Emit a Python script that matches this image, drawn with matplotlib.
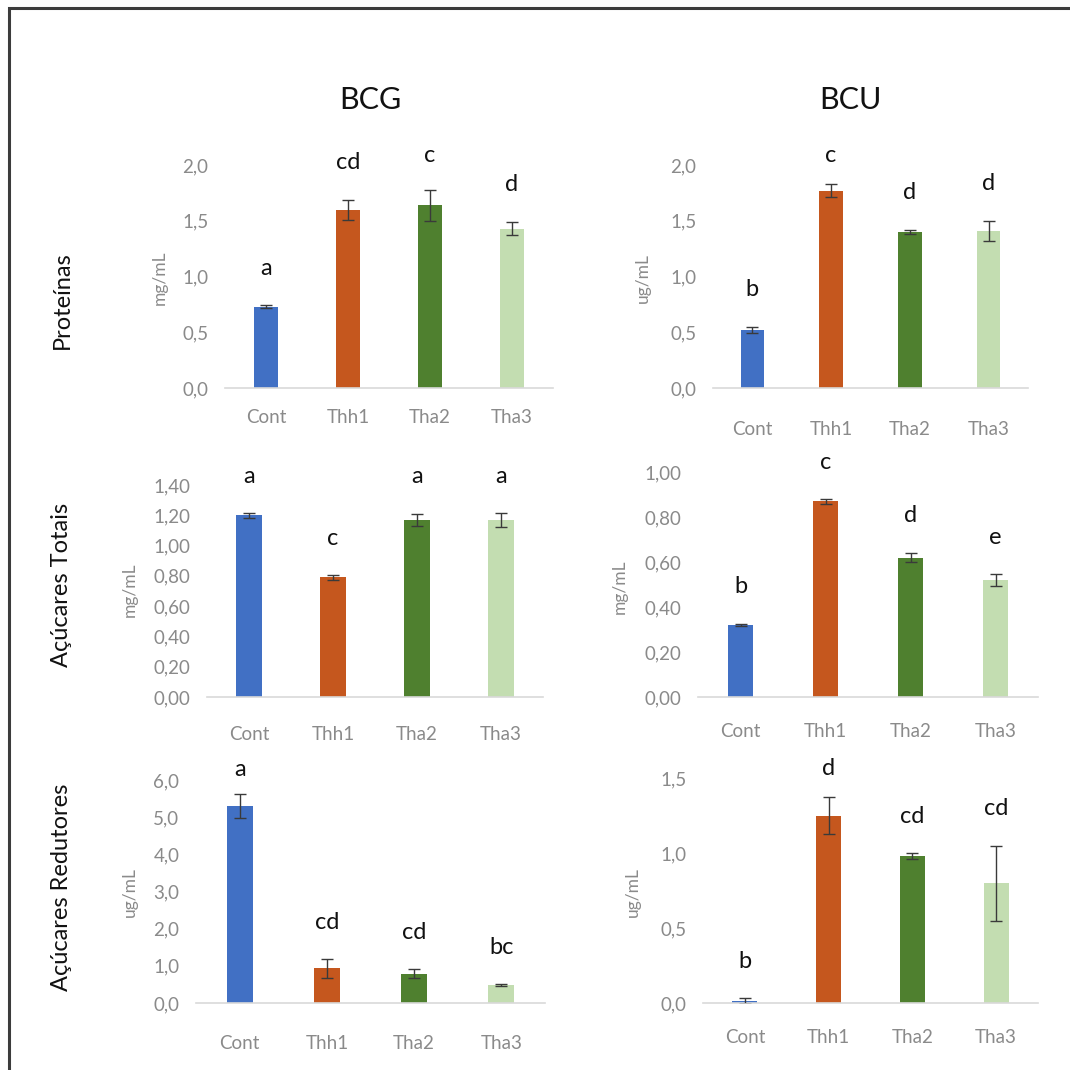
import numpy as np
import matplotlib
matplotlib.use('Agg')
import matplotlib.pyplot as plt
from matplotlib.patches import Rectangle

plt.rcParams['font.family'] = ['Lato', 'DejaVu Sans']

groups = ['Cont', 'Thh1', 'Tha2', 'Tha3']
colors = ['#4170C4', '#C5571E', '#4F802F', '#C3DDB1']

bcg_prot = [0.73, 1.60, 1.64, 1.43]
bcg_prot_err = [0.01, 0.09, 0.14, 0.06]
bcg_prot_let = ['a', 'cd', 'c', 'd']

bcu_prot = [0.52, 1.77, 1.40, 1.41]
bcu_prot_err = [0.03, 0.06, 0.02, 0.09]
bcu_prot_let = ['b', 'c', 'd', 'd']

bcg_tot = [1.20, 0.79, 1.17, 1.17]
bcg_tot_err = [0.015, 0.015, 0.04, 0.045]
bcg_tot_let = ['a', 'c', 'a', 'a']

bcu_tot = [0.32, 0.87, 0.62, 0.52]
bcu_tot_err = [0.005, 0.012, 0.022, 0.025]
bcu_tot_let = ['b', 'c', 'd', 'e']

bcg_red = [5.30, 0.93, 0.79, 0.48]
bcg_red_err = [0.32, 0.25, 0.12, 0.03]
bcg_red_let = ['a', 'cd', 'cd', 'bc']

bcu_red = [0.013, 1.25, 0.98, 0.80]
bcu_red_err = [0.02, 0.125, 0.02, 0.25]
bcu_red_let = ['b', 'd', 'cd', 'cd']

W, H = 1070, 1070
fig = plt.figure(figsize=(W / 100, H / 100), dpi=100)

# (values, errors, letters, ymax, step, decimals, unit,
#  axes px [left, right, top, bottom], ylabel px (x, y), xtick pad)
panels = [
    (bcg_prot, bcg_prot_err, bcg_prot_let, 2.0, 0.5, 1, 'mg/mL', (225, 553, 165, 388), (160, 278), 15),
    (bcu_prot, bcu_prot_err, bcu_prot_let, 2.0, 0.5, 1, 'ug/mL', (713, 1028, 165, 388), (643, 278), 24),
    (bcg_tot, bcg_tot_err, bcg_tot_let, 1.4, 0.2, 2, 'mg/mL', (207, 543, 485, 697), (130, 590), 21),
    (bcu_tot, bcu_tot_err, bcu_tot_let, 1.0, 0.2, 2, 'mg/mL', (698, 1038, 472, 697), (620, 587), 19),
    (bcg_red, bcg_red_err, bcg_red_let, 6.0, 1.0, 1, 'ug/mL', (196, 545, 780, 1003), (130, 892), 23),
    (bcu_red, bcu_red_err, bcu_red_let, 1.5, 0.5, 1, 'ug/mL', (703, 1038, 778, 1003), (633, 892), 19),
]

x = np.arange(len(groups))
for vals, errs, lets, ymax, step, dec, unit, box, lab, xpad in panels:
    l, r, t, b = box
    ax = fig.add_axes([l / W, 1 - b / H, (r - l) / W, (b - t) / H])
    ax.bar(x, vals, width=0.3, color=colors, zorder=2)
    ax.errorbar(x, vals, yerr=errs, fmt='none', ecolor='#3a3a3a', elinewidth=1,
                capsize=4, capthick=1, zorder=3)
    ax.set_xlim(-0.5, 3.5)
    ax.set_ylim(0, ymax)
    ticks = np.arange(0, ymax + step / 2, step)
    ax.set_yticks(ticks)
    ax.set_yticklabels([f'{v:.{dec}f}'.replace('.', ',') for v in ticks])
    ax.set_xticks(x)
    ax.set_xticklabels(groups)
    for s in ['top', 'right', 'left']:
        ax.spines[s].set_visible(False)
    ax.spines['bottom'].set_color('#d9d9d9')
    ax.spines['bottom'].set_linewidth(1.2)
    ax.tick_params(axis='both', length=0, colors='#8a8a8a', labelsize=13.5)
    ax.tick_params(axis='y', pad=12)
    ax.tick_params(axis='x', pad=xpad)
    ax.patch.set_alpha(0)

    dpp = ymax / (b - t)
    for i, let in enumerate(lets):
        yl = min(vals[i] + errs[i] + 37 * dpp, ymax + 10 * dpp)
        ax.text(i, yl, let, ha='center', va='center', fontsize=17,
                color='#111111', clip_on=False)

    fig.text(lab[0] / W, 1 - lab[1] / H, unit, rotation=90, ha='center',
             va='center', fontsize=12.5, color='#8a8a8a')

fig.text(370 / W, 1 - 100 / H, 'BCG', ha='center', va='center', fontsize=22, color='#111111')
fig.text(850 / W, 1 - 100 / H, 'BCU', ha='center', va='center', fontsize=22, color='#111111')

fig.text(62 / W, 1 - 300 / H, 'Proteínas', rotation=90, ha='center', va='center', fontsize=17, color='#111111')
fig.text(62 / W, 1 - 585 / H, 'Açúcares Totais', rotation=90, ha='center', va='center', fontsize=17, color='#111111')
fig.text(62 / W, 1 - 887 / H, 'Açúcares Redutores', rotation=90, ha='center', va='center', fontsize=17, color='#111111')

fig.patches.append(Rectangle((9 / W, -0.1), 1.2, 1.1 - 8 / H, transform=fig.transFigure,
                             fill=False, edgecolor='#3c3c3c', linewidth=2.2))

fig.savefig('out.png', dpi=100)
